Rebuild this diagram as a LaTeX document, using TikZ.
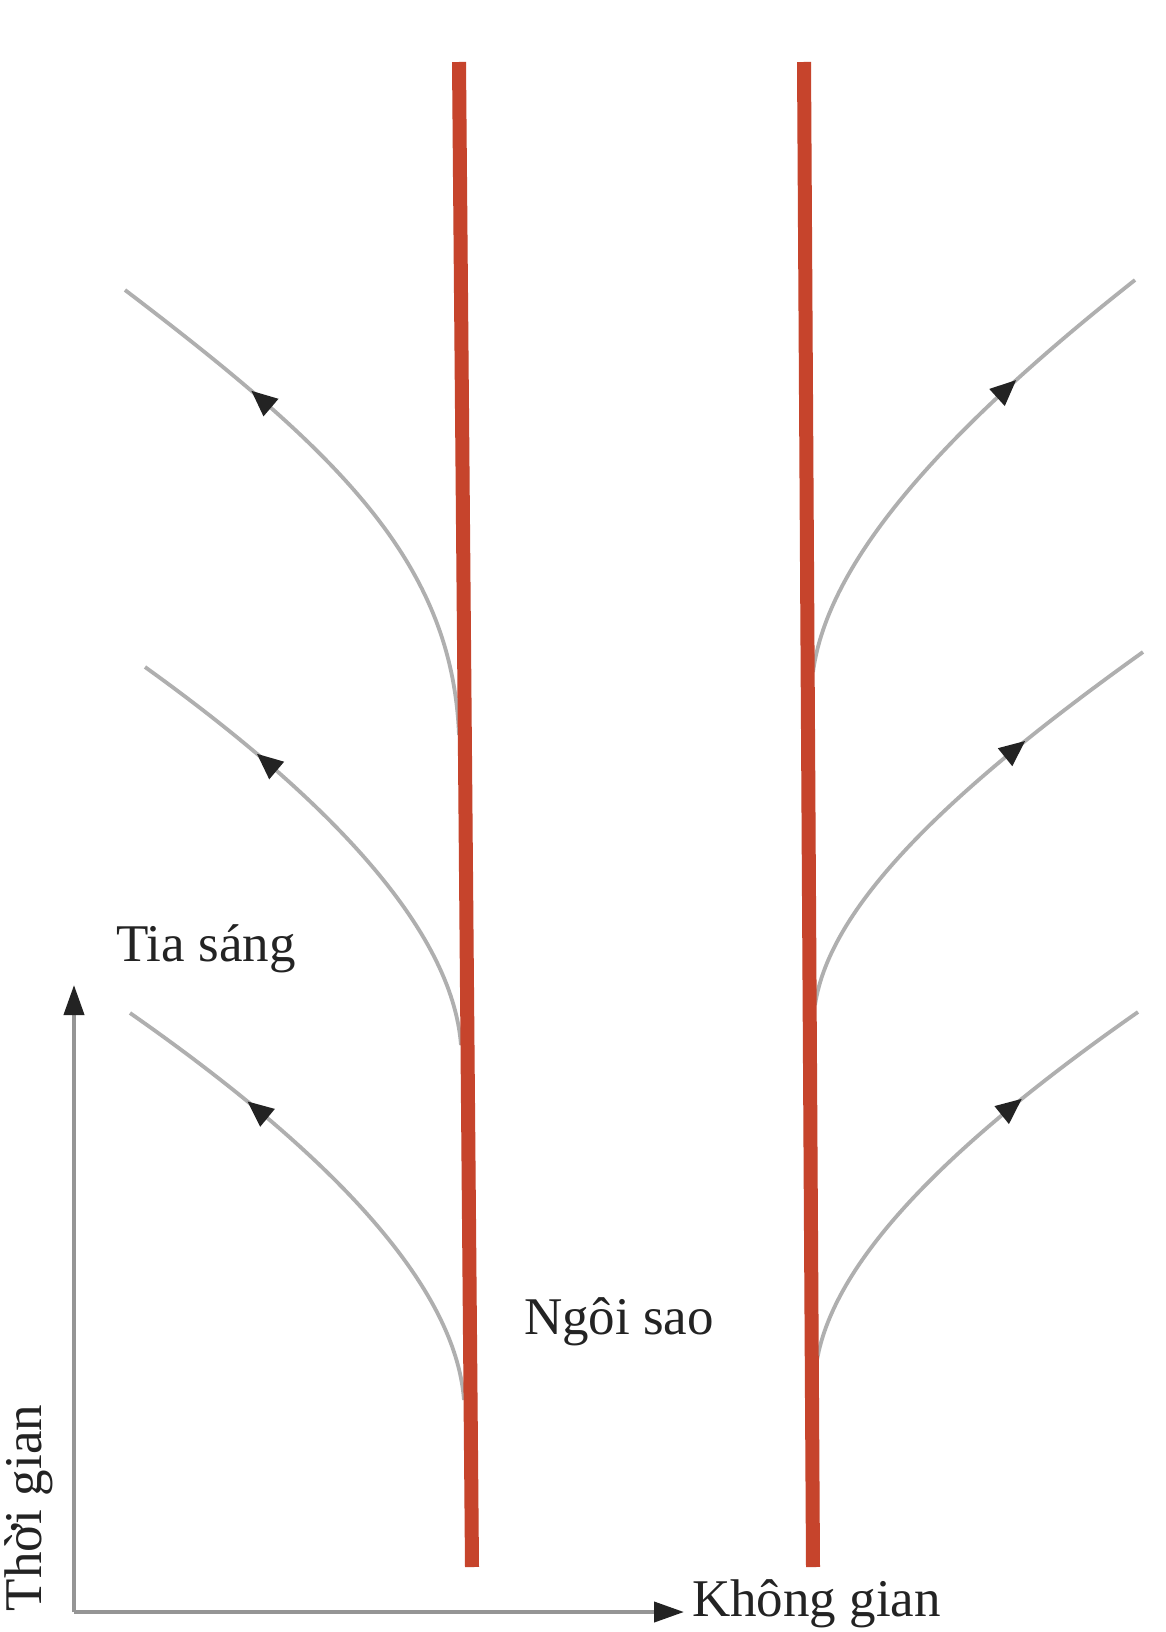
\documentclass[tikz,border=0pt]{standalone}
\usepackage{fontspec}
\setmainfont{Liberation Serif}
\usetikzlibrary{arrows.meta,decorations.markings}
\definecolor{starred}{RGB}{198,68,44}
\definecolor{raygray}{RGB}{175,175,175}
\definecolor{ink}{RGB}{35,35,35}
\begin{document}
\begin{tikzpicture}[x=1pt,y=-1pt,
  starline/.style={starred,line width=14pt},
  lightray/.style={raygray,line width=3.8pt,postaction={decorate},
    decoration={markings,mark=at position #1 with {\arrow[ink]{Triangle[length=26pt,width=22pt]}}}},
  lightray/.default=0.7,
  lbl/.style={ink,font=\fontsize{53}{60}\selectfont,inner sep=0pt},
  axisline/.style={raygray!85!black,line width=4pt,-{Triangle[length=30pt,width=20pt,color=ink]}}]
\useasboundingbox (0,0) rectangle (1166,1632);
\fill[white] (0,0) rectangle (1166,1632);

% left rays
\coordinate (l1s) at (459,735);  \coordinate (l1e) at (125,290);
\coordinate (l2s) at (461,1045); \coordinate (l2e) at (145,667);
\coordinate (l3s) at (464,1400); \coordinate (l3e) at (130,1013);
\draw[lightray=0.72] (l1s) .. controls (452,560) and (335,450) .. (l1e);
\draw[lightray=0.72] (l2s) .. controls (452,930) and (330,800) .. (l2e);
\draw[lightray=0.72] (l3s) .. controls (455,1283) and (326,1150) .. (l3e);

% right rays
\coordinate (r1s) at (813,672);  \coordinate (r1e) at (1135,280);
\coordinate (r2s) at (815,1005); \coordinate (r2e) at (1143,652);
\coordinate (r3s) at (817,1360); \coordinate (r3e) at (1138,1012);
\draw[lightray=0.7] (r1s) .. controls (828,560) and (945,430) .. (r1e);
\draw[lightray=0.7] (r2s) .. controls (830,905) and (950,790) .. (r2e);
\draw[lightray=0.7] (r3s) .. controls (835,1258) and (952,1142) .. (r3e);

% stars (world lines)
\coordinate (lt) at (459,62);  \coordinate (lb) at (472,1567);
\coordinate (rt) at (804,62);  \coordinate (rb) at (813,1567);
\draw[starline] (lt) -- (lb);
\draw[starline] (rt) -- (rb);

% axes
\coordinate (O) at (74,1612);
\coordinate (ty) at (74,985);
\coordinate (tx) at (684,1612);
\draw[axisline] (O) -- (ty);
\draw[axisline] (O) -- (tx);

% labels
\node[lbl] (tia) at (206,949) {Tia sáng};
\node[lbl] (ngoi) at (619,1322) {Ngôi sao};
\node[lbl,rotate=90] (thoi) at (29,1508) {Thời gian};
\node[lbl,anchor=west] (khong) at (692,1604) {Không gian};
\end{tikzpicture}
\end{document}
